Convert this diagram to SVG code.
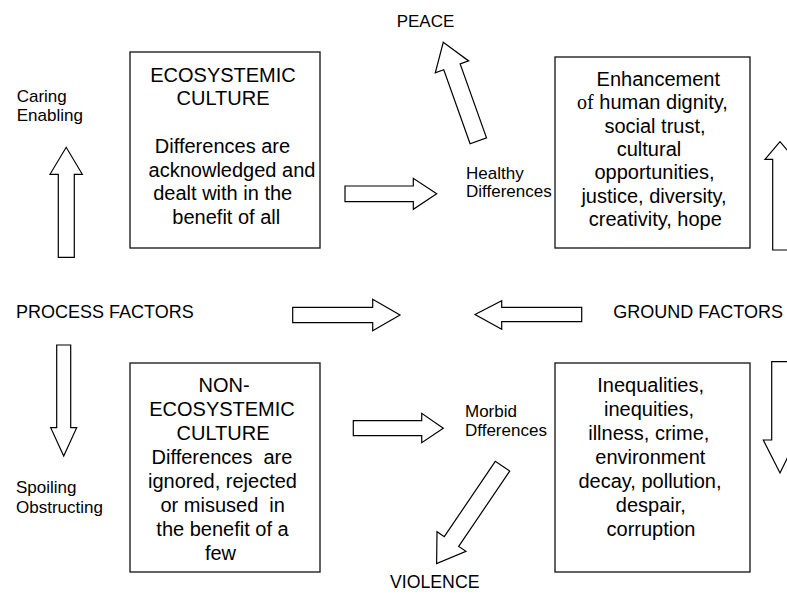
<svg xmlns="http://www.w3.org/2000/svg" width="787" height="596" viewBox="0 0 787 596">
<style>
.bg{fill:#ffffff}
.box{fill:#ffffff;stroke:#222222;stroke-width:1.4}
.arr{fill:#ffffff;stroke:#000000;stroke-width:1.2;stroke-linejoin:miter}
.bt{font-family:"Liberation Sans",Arial,sans-serif;font-size:20px;fill:#000000;text-anchor:middle}
.lb{font-family:"Liberation Sans",Arial,sans-serif;font-size:18px;fill:#000000}
.sm{font-family:"Liberation Sans",Arial,sans-serif;font-size:17px;fill:#000000}
.serif{font-family:"Liberation Serif","Times New Roman",serif}
</style>
<rect class="bg" x="0" y="0" width="787" height="596"/>
<g id="connectors">
  <polygon class="arr" points="58.3,257.3 74.3,257.3 74.3,174.3 82.3,174.3 66.2,147.3 50,174.3 58.3,174.3"/>
  <polygon class="arr" points="56.7,345 70.7,345 70.7,427.7 76.7,427.7 63.7,456 50.7,427.7 56.7,427.7"/>
  <polygon class="arr" points="772.7,250 788,250 788,159.3 795,159.3 780,141.7 765,159.3 772.7,159.3"/>
  <polygon class="arr" points="771.7,361.7 788,361.7 788,440 796,440 780,473 763.3,440 771.7,440"/>
  <polygon class="arr" points="345,186 413.3,186 413.3,178.3 436.7,193.8 413.3,209.3 413.3,201.7 345,201.7"/>
  <polygon class="arr" points="292.7,307.3 372.7,307.3 372.7,299.3 400,315 372.7,330.7 372.7,322.7 292.7,322.7"/>
  <polygon class="arr" points="581.7,307.3 501.7,307.3 501.7,300.7 475,314.5 501.7,329.3 501.7,321.7 581.7,321.7"/>
  <polygon class="arr" points="353.3,420.7 421.7,420.7 421.7,413.3 443.3,428.2 421.7,442.7 421.7,435.7 353.3,435.7"/>
  <polygon class="arr" transform="translate(478.3,140.8) rotate(-109.6)" points="0,-8.7 78.5,-8.7 78.5,-17.7 104.5,0 78.5,17.7 78.5,8.7 0,8.7"/>
  <polygon class="arr" transform="translate(502.5,466.2) rotate(124.1)" points="0,-8.7 91,-8.7 91,-17.5 117.5,0 91,17.5 91,8.7 0,8.7"/>
</g>
<g id="node-ecosystemic">
  <rect class="box" x="130" y="52" width="190" height="196"/>
  <text class="bt" x="223" y="82">ECOSYSTEMIC</text>
  <text class="bt" x="223" y="105">CULTURE</text>
  <text class="bt" x="222.5" y="153">Differences are</text>
  <text class="bt" x="232" y="176.5">acknowledged and</text>
  <text class="bt" x="222.7" y="200">dealt with in the</text>
  <text class="bt" x="226.3" y="223.5">benefit of all</text>
</g>
<g id="node-enhancement">
  <rect class="box" x="555" y="57" width="195" height="191"/>
  <text class="bt" x="658.3" y="86">Enhancement</text>
  <text class="bt" x="652.5" y="109.3"><tspan class="serif">of</tspan> human dignity,</text>
  <text class="bt" x="655" y="132.6">social trust,</text>
  <text class="bt" x="649" y="156">cultural</text>
  <text class="bt" x="654.5" y="179.3">opportunities,</text>
  <text class="bt" x="654" y="202.6">justice, diversity,</text>
  <text class="bt" x="655.3" y="226">creativity, hope</text>
</g>
<g id="node-nonecosystemic">
  <rect class="box" x="130" y="363" width="190" height="209"/>
  <text class="bt" x="224" y="391.5">NON-</text>
  <text class="bt" x="222" y="415.5">ECOSYSTEMIC</text>
  <text class="bt" x="223" y="439.5">CULTURE</text>
  <text class="bt" x="222" y="463.5" xml:space="preserve">Differences  are</text>
  <text class="bt" x="222.5" y="487.5">ignored, rejected</text>
  <text class="bt" x="222.7" y="511.5" xml:space="preserve">or misused  in</text>
  <text class="bt" x="222.5" y="535.5">the benefit of a</text>
  <text class="bt" x="220.5" y="559.5">few</text>
</g>
<g id="node-inequalities">
  <rect class="box" x="555" y="363" width="195" height="209"/>
  <text class="bt" x="650.7" y="391.5">Inequalities,</text>
  <text class="bt" x="649" y="415.5">inequities,</text>
  <text class="bt" x="648.8" y="439.5">illness, crime,</text>
  <text class="bt" x="650.3" y="463.5">environment</text>
  <text class="bt" x="650" y="487.5">decay, pollution,</text>
  <text class="bt" x="650.8" y="511.5">despair,</text>
  <text class="bt" x="651" y="535.5">corruption</text>
</g>
<g id="node-peace"><text class="sm" x="396.7" y="27">PEACE</text></g>
<g id="node-violence"><text class="lb" x="390" y="588" style="font-size:17.7px">VIOLENCE</text></g>
<g id="node-process"><text class="lb" x="16" y="318">PROCESS FACTORS</text></g>
<g id="node-ground"><text class="lb" x="613.3" y="318">GROUND FACTORS</text></g>
<g id="node-caring">
  <text class="sm" x="16.7" y="101.7">Caring</text>
  <text class="sm" x="16.7" y="120.5">Enabling</text>
</g>
<g id="node-spoiling">
  <text class="sm" x="16" y="493.3">Spoiling</text>
  <text class="sm" x="16" y="513.3">Obstructing</text>
</g>
<g id="node-healthy">
  <text class="sm" x="466" y="179">Healthy</text>
  <text class="sm" x="466" y="196.7">Differences</text>
</g>
<g id="node-morbid">
  <text class="sm" x="465" y="416.7">Morbid</text>
  <text class="sm" x="465" y="435.7">Dfferences</text>
</g>
</svg>
